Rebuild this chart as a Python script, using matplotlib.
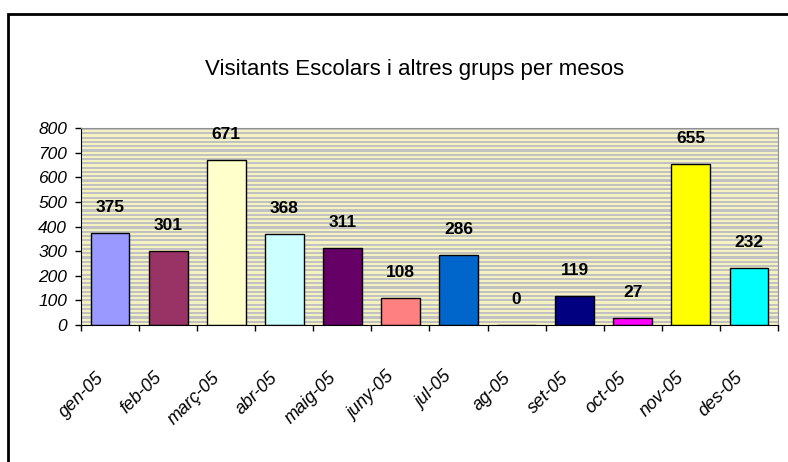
import numpy as np
from matplotlib import pyplot as plt
from matplotlib.patches import Rectangle
from matplotlib.transforms import ScaledTranslation

months = ["gen-05", "feb-05", "març-05", "abr-05", "maig-05", "juny-05",
          "jul-05", "ag-05", "set-05", "oct-05", "nov-05", "des-05"]
visitors = [375, 301, 671, 368, 311, 108, 286, 0, 119, 27, 655, 232]
colors = ["#9999FF", "#993366", "#FFFFCC", "#CCFFFF", "#660066", "#FF8080",
          "#0066CC", "#CCCCFF", "#000080", "#FF00FF", "#FFFF00", "#00FFFF"]
y_ticks = [0, 100, 200, 300, 400, 500, 600, 700, 800]

plt.rcParams['font.family'] = ["Liberation Sans", "DejaVu Sans"]

fig = plt.figure(figsize=(7.88, 4.62), dpi=100)
fig.patch.set_facecolor("white")
ax = fig.add_axes([0.1028, 0.2965, 0.8845, 0.4264])

# striped background like the excel pattern fill
n_rows = 92
bg = np.zeros((n_rows, 1, 3))
bg[0::2] = [0.76, 0.76, 0.76]
bg[1::2] = [0.96, 0.95, 0.76]
ax.imshow(bg, extent=[-0.5, len(months) - 0.5, 0, 800], aspect="auto",
          interpolation="nearest", zorder=0)

x = np.arange(len(months))
ax.bar(x, visitors, width=0.667, color=colors, edgecolor="black",
       linewidth=1, zorder=2)

for xi, v in zip(x, visitors):
    ax.annotate(str(v), (xi, v), xytext=(0, 13), textcoords="offset points",
                ha="center", va="bottom", fontsize=12.5, fontweight="bold",
                annotation_clip=False)

ax.set_xlim(-0.5, len(months) - 0.5)
ax.set_ylim(0, 800)
ax.set_yticks(y_ticks)
ax.set_yticklabels([str(t) for t in y_ticks], fontsize=12.5, fontstyle="italic")

# ticks sit between categories, labels drawn by hand under the centres
ax.set_xticks(np.arange(-0.5, len(months), 1.0))
ax.set_xticklabels([])
ax.tick_params(axis="x", which="major", length=4, width=1, direction="out")
ax.tick_params(axis="y", length=4, width=1, direction="out", pad=6)

label_tf = ax.get_xaxis_transform() + ScaledTranslation(-15 / 100, -44 / 100,
                                                        fig.dpi_scale_trans)
for xi, m in zip(x, months):
    ax.text(xi, 0, m, transform=label_tf, rotation=45, ha="right", va="top",
            rotation_mode="anchor", fontsize=13, fontstyle="italic")

for side in ["top", "right"]:
    ax.spines[side].set_color("#909090")
for side in ["left", "bottom"]:
    ax.spines[side].set_color("black")

fig.text(415 / 788, 1 - 70 / 462, "Visitants Escolars i altres grups per mesos",
         ha="center", va="center", fontsize=16)

frame = Rectangle((8 / 788, -0.1), 1.2, 1 - 14 / 462 + 0.1, fill=False,
                  edgecolor="black", linewidth=2, transform=fig.transFigure)
fig.patches.append(frame)

plt.savefig("out.png", dpi=100)
